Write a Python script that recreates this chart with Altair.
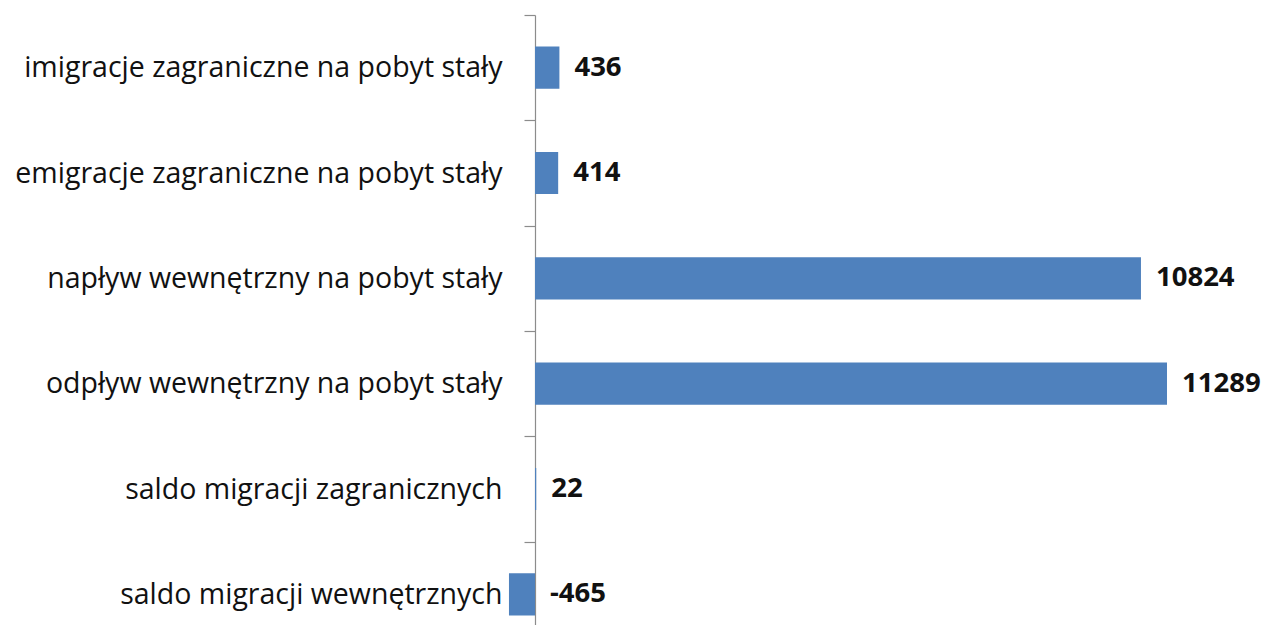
import altair as alt
import pandas as pd

categories = [
    "imigracje zagraniczne na pobyt stały",
    "emigracje zagraniczne na pobyt stały",
    "napływ wewnętrzny na pobyt stały",
    "odpływ wewnętrzny na pobyt stały",
    "saldo migracji zagranicznych",
    "saldo migracji wewnętrznych",
]
values = [436, 414, 10824, 11289, 22, -465]

df = pd.DataFrame({"kat": categories, "val": values})

FONT = "Open Sans"
PX_PER_UNIT = 632 / 11289
PLOT_W = 1255 - 527
XMAX = PLOT_W / PX_PER_UNIT

y_enc = alt.Y(
    "kat:N",
    sort=categories,
    scale=alt.Scale(range=[0, 632], paddingInner=0, paddingOuter=0),
    axis=alt.Axis(
        title=None,
        tickBand="extent",
        tickSize=11,
        tickColor="#8c8c8c",
        domainColor="#8c8c8c",
        domainWidth=1.2,
        tickWidth=1.2,
        labelFont=FONT,
        labelFontSize=28.5,
        labelColor="#111111",
        labelPadding=22,
        labelLimit=700,
        grid=False,
    ),
)

bars = alt.Chart(df).mark_bar(
    color="#4F81BD", height=alt.RelativeBandSize(band=0.4)
).encode(
    x=alt.X("val:Q", scale=alt.Scale(domain=[0, XMAX], nice=False, zero=False), axis=None),
    y=y_enc,
)

labels = alt.Chart(df).transform_calculate(
    pos="max(datum.val, 0)", lab="'' + datum.val"
).mark_text(
    align="left", baseline="middle", dx=15, font=FONT, fontSize=27.5, fontWeight="bold", color="#111111"
).encode(
    x=alt.X("pos:Q"),
    y=alt.Y("kat:N", sort=categories),
    text=alt.Text("lab:N"),
)

chart = alt.layer(bars, labels).properties(
    width=PLOT_W,
    height=610,
    autosize=alt.AutoSizeParams(type="none"),
    padding={"left": 527, "top": 7, "right": 0, "bottom": 0},
).configure_view(stroke=None)

chart.save("out.html", embed_options={"renderer": "svg", "actions": False})
